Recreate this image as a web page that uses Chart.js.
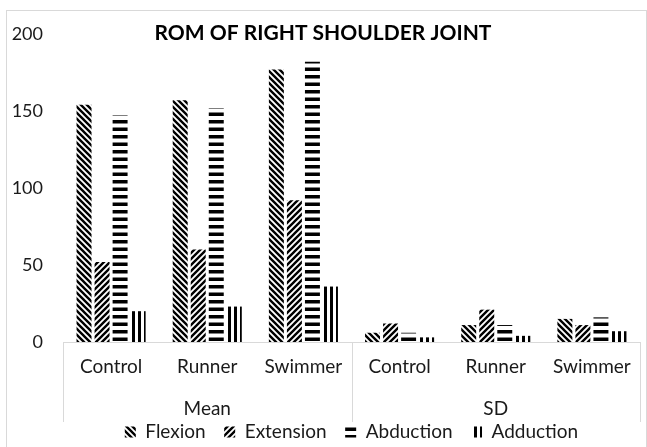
<!DOCTYPE html>
<html>
<head>
<meta charset="utf-8">
<script src="https://cdn.jsdelivr.net/npm/chart.js@4"></script>
<style>
  html, body { margin: 0; padding: 0; background: #fff; }
</style>
</head>
<body>
<canvas id="chart" width="647" height="447"></canvas>
<script>
const categories = ["Control", "Runner", "Swimmer", "Control", "Runner", "Swimmer"];
const groups = ["Mean", "SD"];
const groupSize = 3;
const flexion = [154, 157, 177, 6, 11, 15];
const extension = [52, 60, 92, 12, 21, 11];
const abduction = [147, 152, 182, 6, 11, 16];
const adduction = [20, 23, 36, 3, 4, 7];
const yMax = 200;
const yStep = 50;

const textColor = "#1a1a1a";
const lineGray = "#d9d9d9";
const tickFont = { family: "Lato", size: 18 };
const labelFont = { family: "Lato", size: 19 };

// Black & white hatch fills, like the Excel pattern fills
function makePattern(kind) {
  const w = kind === "h" ? 8 : 6;
  const h = kind === "h" ? 15 : 6;
  const c = document.createElement("canvas");
  c.width = w; c.height = h;
  const g = c.getContext("2d");
  g.fillStyle = "#fff";
  g.fillRect(0, 0, w, h);
  g.fillStyle = "#000";
  g.strokeStyle = "#000";
  if (kind === "h") {
    g.fillRect(0, 0, w, 3.5);
    g.fillRect(0, 7.5, w, 3.5);
  } else if (kind === "v") {
    g.fillRect(0, 0, 3, h);
  } else {
    g.lineWidth = 2.4;
    g.beginPath();
    if (kind === "back") {
      g.moveTo(-1, -1); g.lineTo(w + 1, h + 1);
      g.moveTo(-2, h - 2); g.lineTo(2, h + 2);
      g.moveTo(w - 2, -2); g.lineTo(w + 2, 2);
    } else {
      g.moveTo(-1, h + 1); g.lineTo(w + 1, -1);
      g.moveTo(-2, 2); g.lineTo(2, -2);
      g.moveTo(w - 2, h + 2); g.lineTo(w + 2, h - 2);
    }
    g.stroke();
  }
  const ctx = document.getElementById("chart").getContext("2d");
  return ctx.createPattern(c, "repeat");
}

// outer frame, group separators and group names under the category axis
const framePlugin = {
  id: "frame",
  beforeDraw(chart) {
    const ctx = chart.ctx;
    ctx.save();
    ctx.fillStyle = "#fff";
    ctx.fillRect(0, 0, chart.width, chart.height);
    ctx.strokeStyle = lineGray;
    ctx.lineWidth = 1;
    ctx.strokeRect(6.5, 10.5, 640, 460);
    ctx.restore();
  },
  afterDraw(chart) {
    const ctx = chart.ctx;
    const area = chart.chartArea;
    const x = chart.scales.x;
    const half = (x.getPixelForValue(1) - x.getPixelForValue(0)) / 2;
    ctx.save();
    ctx.strokeStyle = lineGray;
    ctx.lineWidth = 1;
    ctx.beginPath();
    const edges = [area.left];
    groups.forEach((g, i) => edges.push(x.getPixelForValue((i + 1) * groupSize - 1) + half));
    edges.forEach(px => {
      const xx = Math.round(px) + 0.5;
      ctx.moveTo(xx, area.bottom);
      ctx.lineTo(xx, 422);
    });
    ctx.stroke();

    ctx.fillStyle = textColor;
    ctx.font = `${labelFont.size}px ${labelFont.family}`;
    ctx.textAlign = "center";
    ctx.textBaseline = "middle";
    groups.forEach((g, i) => {
      const cx = (x.getPixelForValue(i * groupSize) + x.getPixelForValue((i + 1) * groupSize - 1)) / 2;
      ctx.fillText(g, cx, 409);
    });
    ctx.restore();
  }
};

new Chart(document.getElementById("chart"), {
  type: "bar",
  data: {
    labels: categories,
    datasets: [
      { label: "Flexion", data: flexion, backgroundColor: makePattern("back") },
      { label: "Extension", data: extension, backgroundColor: makePattern("fwd") },
      { label: "Abduction", data: abduction, backgroundColor: makePattern("h") },
      { label: "Adduction", data: adduction, backgroundColor: makePattern("v") }
    ]
  },
  options: {
    responsive: false,
    animation: false,
    layout: { padding: { top: 0, left: 6, right: 7, bottom: -4.5 } },
    datasets: { bar: { categoryPercentage: 0.75, barPercentage: 0.83 } },
    scales: {
      y: {
        min: 0,
        max: yMax,
        ticks: { stepSize: yStep, padding: 12, color: textColor, font: tickFont },
        grid: { display: false },
        border: { display: false },
        afterFit: s => { s.width = 57; }
      },
      x: {
        grid: { display: false },
        border: { color: lineGray, width: 1 },
        ticks: { color: textColor, font: labelFont, padding: 5, maxRotation: 0, autoSkip: false },
        afterFit: s => { s.height = 62; }
      }
    },
    plugins: {
      title: {
        display: true,
        text: "ROM OF RIGHT SHOULDER JOINT",
        color: "#000",
        font: { family: "Lato", size: 21, weight: "bold" },
        padding: { top: 21, bottom: -12.2 }
      },
      legend: {
        position: "bottom",
        fullSize: false,
        labels: {
          color: textColor,
          font: labelFont,
          boxWidth: 11,
          boxHeight: 11,
          padding: 18.5
        }
      },
      tooltip: { enabled: false }
    }
  },
  plugins: [framePlugin]
});
</script>
</body>
</html>
